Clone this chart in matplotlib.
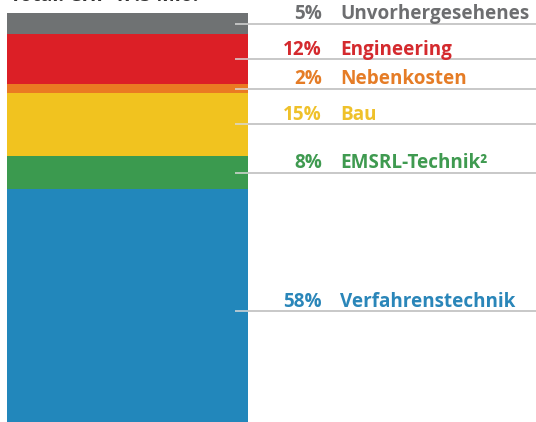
import matplotlib
matplotlib.use("Agg")
import matplotlib.pyplot as plt
import numpy as np

# Data (top to bottom in the stacked bar)
categories = ["Unvorhergesehenes", "Engineering", "Nebenkosten", "Bau", "EMSRL-Technik²", "Verfahrenstechnik"]
shares = [5, 12, 2, 15, 8, 58]
bar_colors = ["#6f7273", "#dc1f26", "#ea7a22", "#f1c31f", "#3b9a4f", "#2287bb"]
text_colors = ["#6d6e70", "#d42a2e", "#e57c26", "#efc12a", "#3f9a50", "#2a86b9"]
title = "Total: CHF 47.5 Mio."

W, H = 536, 422
fig = plt.figure(figsize=(W / 100, H / 100), dpi=100)
ax = fig.add_axes([0, 0, 1, 1])
ax.set_xlim(0, W)
px_per_pct = 4.2
top_px = 13
ax.set_ylim(100 - (H - top_px) / px_per_pct, 100 + top_px / px_per_pct)
ax.axis("off")

plt.rcParams["font.family"] = ["Open Sans", "DejaVu Sans"]

# stack from bottom
vals = shares[::-1]
cols = bar_colors[::-1]
bottoms = np.concatenate([[0], np.cumsum(vals)[:-1]])
for v, b, c in zip(vals, bottoms, cols):
    ax.bar(127.5, v, bottom=b, width=241, color=c, edgecolor="none")

tops_from_top = 100 - np.concatenate([[0], np.cumsum(shares)[:-1]])
mids = tops_from_top - np.array(shares) / 2

off = 4.5 / px_per_pct
for name, s, m, tc in zip(categories, shares, mids, text_colors):
    ax.plot([235, 248], [m, m], color="#d8d8d8", lw=1.1, solid_capstyle="butt")
    ax.plot([248, W], [m, m], color="#b9b9b9", lw=1.1, solid_capstyle="butt")
    ax.text(322, m + off, f"{s}%", ha="right", va="baseline", color=tc,
            fontsize=13.6, fontweight="bold")
    ax.text(340, m + off, name, ha="left", va="baseline", color=tc,
            fontsize=13.6, fontweight="bold")

fig.text(10 / W, 1 - 1.0 / H, title, ha="left", va="baseline", color="#333333",
         fontsize=14, fontweight="bold")

fig.savefig("out.png", dpi=100)
